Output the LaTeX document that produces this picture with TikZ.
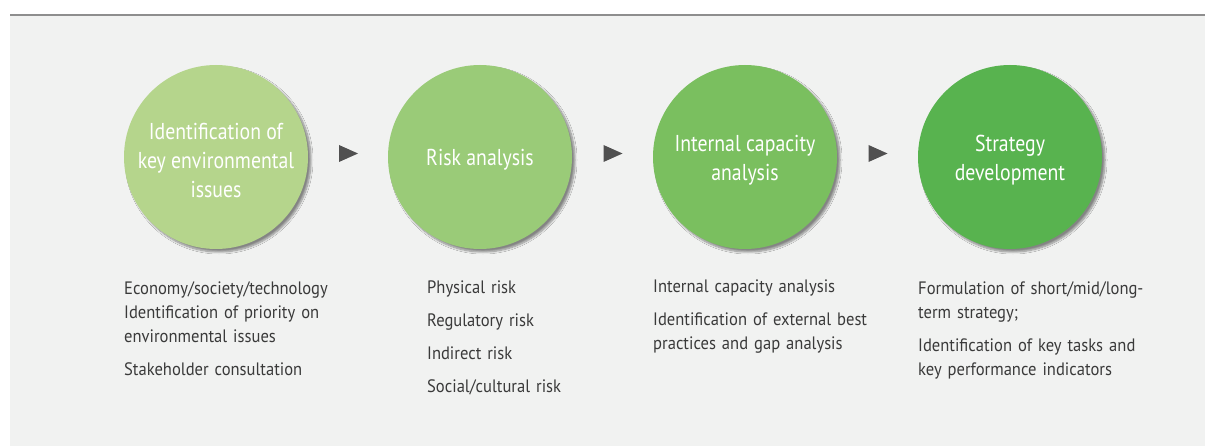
\documentclass[tikz,border=0pt]{standalone}
\usepackage{fontspec}
\setmainfont{PT Sans}[FakeStretch=0.92]
\newfontfamily\stagefont{PT Sans}[FakeStretch=0.86]
\usetikzlibrary{shadows.blur,calc}
\definecolor{bgcol}{HTML}{F1F2F1}
\definecolor{rulecol}{HTML}{8E8E8E}
\definecolor{txtcol}{HTML}{3A3A3A}
\definecolor{arrcol}{HTML}{505050}
\definecolor{ca}{HTML}{B5D58C}
\definecolor{cb}{HTML}{9ACB78}
\definecolor{cc}{HTML}{7ABF5F}
\definecolor{cd}{HTML}{58B34F}
\tikzset{
  stage/.style={circle, minimum size=184pt, inner sep=0pt,
    blur shadow={shadow xshift=3pt, shadow yshift=-3pt, shadow blur steps=8, shadow opacity=45}},
  stagetext/.style={align=center, inner sep=0pt, yshift=-3pt,
    text=white, font=\stagefont\fontsize{23}{29}\selectfont},
  desc/.style={anchor=base west, inner sep=0pt, text width=280pt, align=left,
    text=txtcol, font=\fontsize{18}{24}\selectfont},
  tri/.style={fill=arrcol}
}
\begin{document}
\begin{tikzpicture}[x=1pt,y=-1pt]
\useasboundingbox (0,0) rectangle (1205,446);
\fill[bgcol] (10,15) rectangle (1205,446);
\draw[line width=1.5pt, rulecol] (10,15) -- (1205,15);

\node[stage, fill=ca] (s1) at (216,157) {};
\node[stage, fill=cb] (s2) at (480,157) {};
\node[stage, fill=cc] (s3) at (745,157) {};
\node[stage, fill=cd] (s4) at (1010,157) {};
\node[stagetext] (t1) at (s1) {Identification of\\key environmental\\issues};
\node[stagetext] (t2) at (s2) {Risk analysis};
\node[stagetext] (t3) at (s3) {Internal capacity\\analysis};
\node[stagetext] (t4) at (s4) {Strategy\\development};

\coordinate (m1) at ($(s1)!0.5!(s2)$);
\coordinate (m2) at ($(s2)!0.5!(s3)$);
\coordinate (m3) at ($(s3)!0.5!(s4)$);
\foreach \m in {m1,m2,m3}{
  \fill[tri] ($(\m)+(-9,-12)$) -- ++(0,17) -- ++(19,-8.5) -- cycle;
}

\node[desc] (d1) at (124,295) {Economy/society/technology\\Identification of priority on\\environmental issues\\[9pt]Stakeholder consultation};
\node[desc] (d2) at (427,294) {Physical risk\\[9pt]Regulatory risk\\[9pt]Indirect risk\\[9pt]Social/cultural risk};
\node[desc] (d3) at (653,293) {Internal capacity analysis\\[9pt]Identification of external best\\practices and gap analysis};
\node[desc] (d4) at (918,295) {Formulation of short/mid/long-\\term strategy;\\[9pt]Identification of key tasks and\\key performance indicators};
\end{tikzpicture}
\end{document}
